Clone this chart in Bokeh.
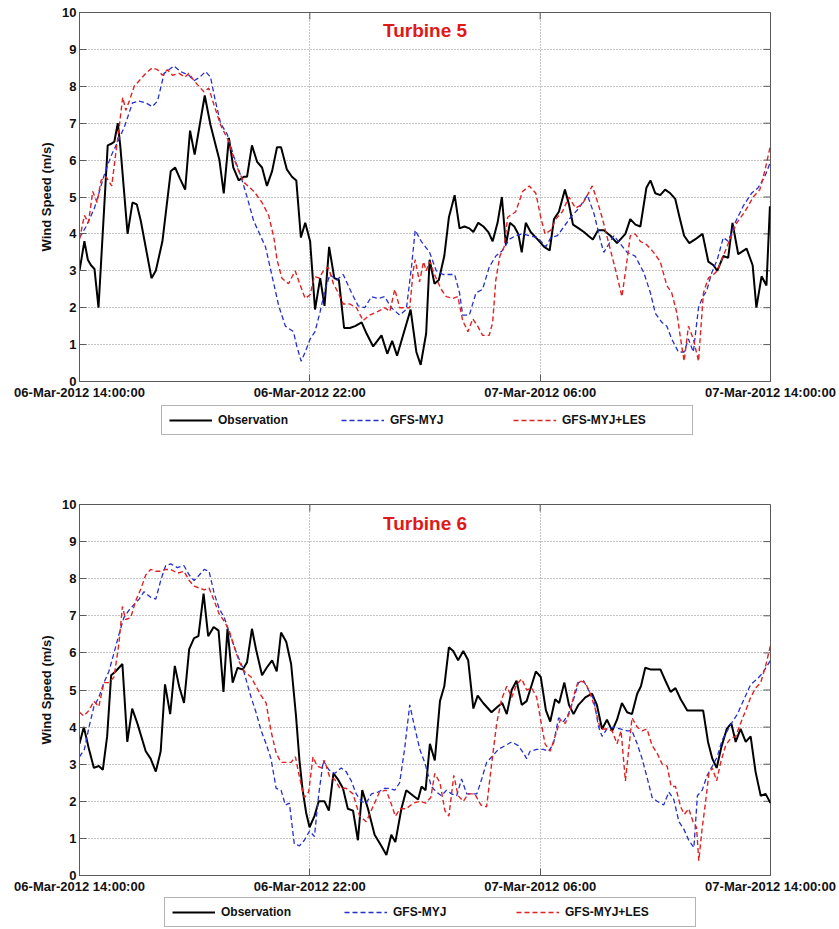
import math
from bokeh.plotting import figure
from bokeh.models import Range1d, FixedTicker, Legend, LegendItem, Label
from bokeh.layouts import column
from bokeh.embed import file_html
from bokeh.resources import INLINE

FONT = "Liberation Sans"

# ---------------- data (hours after 06-Mar-2012 14:00, wind speed m/s) ----------------
x_ticks = [0, 8, 16, 24]
x_tick_labels = ["06-Mar-2012 14:00:00", "06-Mar-2012 22:00", "07-Mar-2012 06:00", "07-Mar-2012 14:00:00"]
y_ticks = [0, 1, 2, 3, 4, 5, 6, 7, 8, 9, 10]
series_names = ["Observation", "GFS-MYJ", "GFS-MYJ+LES"]
panel_titles = ["Turbine 5", "Turbine 6"]

t5_obs_h = [0.0, 0.17, 0.29, 0.40, 0.52, 0.66, 0.98, 1.12, 1.21, 1.33, 1.42, 1.67, 1.84, 1.99, 2.13, 2.50, 2.65, 2.88,
            3.17, 3.32, 3.49, 3.67, 3.84, 4.0, 4.35, 4.55, 4.86, 5.01, 5.19, 5.34, 5.53, 5.71, 5.82, 5.99, 6.17, 6.34,
            6.51, 6.69, 6.86, 7.0, 7.2, 7.38, 7.53, 7.69, 7.84, 8.01, 8.18, 8.36, 8.51, 8.67, 8.85, 9.01, 9.19, 9.39,
            9.57, 9.8, 9.97, 10.2, 10.49, 10.69, 10.86, 11.03, 11.5, 11.7, 11.85, 12.04, 12.16, 12.33, 12.48, 12.67,
            12.83, 13.03, 13.2, 13.37, 13.54, 13.68, 13.85, 14.03, 14.2, 14.35, 14.52, 14.67, 14.81, 14.95, 15.1,
            15.24, 15.36, 15.5, 15.67, 15.91, 16.14, 16.33, 16.48, 16.65, 16.86, 17.0, 17.14, 17.34, 17.52, 17.67,
            17.83, 18.01, 18.21, 18.44, 18.67, 18.96, 19.13, 19.31, 19.48, 19.69, 19.83, 20.0, 20.17, 20.34, 20.52,
            20.69, 20.84, 21.0, 21.18, 21.38, 21.64, 21.84, 22.02, 22.15, 22.36, 22.53, 22.68, 22.88, 23.17, 23.38,
            23.51, 23.69, 23.86, 23.98]
t5_obs_v = [3.0, 3.8, 3.3, 3.15, 3.05, 2.0, 6.4, 6.45, 6.5, 7.0, 6.35, 4.0, 4.85, 4.8, 4.35, 2.8, 3.0, 3.8,
            5.7, 5.8, 5.5, 5.2, 6.8, 6.15, 7.75, 6.95, 6.0, 5.1, 6.6, 5.8, 5.45, 5.55, 5.55, 6.4, 5.95, 5.8,
            5.3, 5.7, 6.35, 6.35, 5.75, 5.55, 5.45, 3.9, 4.3, 3.8, 1.95, 2.8, 2.05, 3.65, 2.8, 2.75, 1.45, 1.45,
            1.5, 1.6, 1.3, 0.95, 1.25, 0.75, 1.1, 0.7, 1.95, 0.8, 0.45, 1.3, 3.3, 2.65, 2.75, 3.4,
            4.45, 5.05, 4.15, 4.2, 4.15, 4.05, 4.3, 4.2, 4.05, 3.8, 4.3, 5.0, 3.7, 4.3, 4.2,
            4.0, 3.5, 4.3, 4.05, 3.85, 3.65, 3.55, 4.4, 4.6, 5.2, 4.8, 4.25, 4.15, 4.05, 3.95,
            3.85, 4.1, 4.1, 3.95, 3.75, 4.0, 4.4, 4.25, 4.2, 5.25, 5.45, 5.1, 5.05, 5.2, 5.1,
            4.95, 4.45, 3.95, 3.75, 3.85, 4.0, 3.25, 3.15, 3.0, 3.4, 3.35, 4.3, 3.45, 3.6, 3.15,
            2.0, 2.85, 2.6, 4.75]

t5_myj_h = [0.0, 0.23, 0.52, 0.86, 1.09, 1.33, 1.56, 1.84, 2.07, 2.3, 2.53, 2.71, 2.94, 3.28, 3.51, 3.8, 3.98, 4.18,
            4.38, 4.55, 4.72, 4.9, 5.13, 5.36, 5.59, 5.82, 6.05, 6.46, 6.69, 6.92, 7.15, 7.43, 7.55, 7.7, 7.84, 8.01,
            8.18, 8.36, 8.53, 8.7, 8.93, 9.16, 9.45, 9.68, 9.91, 10.14, 10.37, 10.6, 10.83, 11.12, 11.35, 11.53,
            11.66, 11.87, 12.16, 12.39, 12.62, 13.03, 13.2, 13.31, 13.54, 13.77, 14.0, 14.23, 14.46, 14.69, 14.92,
            15.15, 15.39, 15.62, 15.91, 16.2, 16.37, 16.6, 16.83, 17.06, 17.35, 17.64, 17.87, 18.1, 18.21, 18.56,
            19.02, 19.3, 19.6, 19.83, 20.0, 20.23, 20.4, 20.57, 20.8, 21.0, 21.15, 21.32, 21.5, 21.65, 21.78, 21.96,
            22.15, 22.36, 22.53, 22.77, 23.05, 23.34, 23.57, 23.8, 24.0]
t5_myj_v = [3.9, 4.2, 4.7, 5.6, 6.1, 6.5, 6.9, 7.55, 7.6, 7.55, 7.45, 7.6, 8.35, 8.55, 8.4, 8.3, 8.15, 8.25,
            8.4, 8.25, 7.6, 7.0, 6.7, 6.1, 5.6, 5.0, 4.35, 3.65, 2.85, 2.05, 1.5, 1.35, 0.95, 0.55, 0.8, 1.15,
            1.35, 1.9, 2.5, 2.9, 2.75, 2.9, 2.4, 2.05, 2.0, 2.3, 2.25, 2.3, 2.0, 1.8, 1.95, 3.1,
            4.1, 3.8, 3.5, 3.0, 2.9, 2.9, 2.4, 1.8, 1.8, 2.4, 2.5, 3.1, 3.4, 3.55, 3.85,
            3.95, 4.0, 3.95, 3.9, 3.65, 3.9, 3.95, 4.2, 4.45, 4.7, 5.05, 4.55, 3.8, 3.5, 3.95,
            3.5, 3.4, 2.95, 2.4, 1.85, 1.6, 1.5, 1.15, 0.8, 0.8, 1.15, 0.8, 2.0, 2.3, 2.45, 2.95,
            3.3, 3.9, 3.8, 4.3, 4.75, 5.1, 5.25, 5.55, 5.95]

t5_les_h = [0.0, 0.17, 0.31, 0.46, 0.61, 0.75, 0.92, 1.12, 1.27, 1.38, 1.5, 1.61, 1.73, 1.9, 2.13, 2.3, 2.53, 2.71,
            2.88, 3.05, 3.23, 3.46, 3.66, 3.8, 3.98, 4.15, 4.32, 4.49, 4.67, 4.9, 5.19, 5.36, 5.53, 5.71, 5.99, 6.11,
            6.34, 6.57, 6.75, 6.86, 7.03, 7.26, 7.49, 7.67, 7.84, 8.01, 8.16, 8.32, 8.47, 8.64, 8.82, 8.99, 9.16,
            9.39, 9.62, 9.85, 10.08, 10.37, 10.6, 10.78, 10.95, 11.12, 11.3, 11.47, 11.59, 11.66, 11.81, 11.95,
            12.04, 12.16, 12.33, 12.56, 12.74, 12.97, 13.14, 13.31, 13.49, 13.66, 13.83, 14.0, 14.23, 14.35, 14.46,
            14.6, 14.75, 14.87, 15.15, 15.39, 15.62, 15.85, 16.02, 16.17, 16.37, 16.54, 16.77, 17.0, 17.23, 17.46,
            17.64, 17.81, 17.98, 18.15, 18.38, 18.61, 18.84, 19.02, 19.13, 19.3, 19.48, 19.71, 19.94, 20.17, 20.4,
            20.57, 20.75, 20.86, 21.0, 21.15, 21.32, 21.5, 21.67, 21.84, 22.02, 22.15, 22.36, 22.59, 22.83, 23.11,
            23.4, 23.63, 23.8, 24.0]
t5_les_v = [3.85, 4.5, 4.3, 5.15, 4.85, 5.45, 5.55, 5.3, 6.25, 6.9, 7.7, 7.35, 7.6, 8.0, 8.2, 8.35, 8.5, 8.45,
            8.3, 8.45, 8.3, 8.35, 8.25, 8.35, 8.15, 8.0, 7.85, 7.95, 7.5, 6.95, 6.5, 6.05, 5.7, 5.4, 5.2, 5.1,
            4.85, 4.5, 3.9, 3.3, 2.8, 2.65, 3.0, 2.6, 2.25, 2.35, 2.85, 2.8, 3.0, 3.1, 2.65, 2.4, 2.1,
            2.1, 2.0, 1.65, 1.8, 1.9, 2.0, 1.9, 2.5, 2.0, 2.0, 2.0, 3.0, 3.3, 2.7, 3.25,
            3.0, 3.25, 2.9, 2.5, 2.3, 2.25, 2.3, 1.65, 1.35, 1.7, 1.5, 1.25, 1.25, 1.6, 2.75,
            3.4, 3.65, 4.45, 4.6, 5.15, 5.3, 5.1, 4.45, 4.0, 4.1, 4.4, 4.6, 5.0, 4.7, 4.8,
            5.05, 5.3, 4.9, 4.45, 3.75, 3.05, 2.3, 3.3, 3.95, 4.0, 3.8, 3.7, 3.5, 3.25, 2.6,
            2.4, 1.85, 1.25, 0.55, 1.5, 1.15, 0.55, 2.4, 2.8, 2.9, 3.0, 3.4, 3.85, 4.3, 4.6,
            5.0, 5.2, 5.7, 6.4]

t6_obs_h = [0.0, 0.15, 0.33, 0.5, 0.67, 0.81, 0.96, 1.1, 1.25, 1.49, 1.66, 1.83, 2.01, 2.3, 2.47, 2.65, 2.82, 2.97,
            3.15, 3.31, 3.46, 3.63, 3.81, 3.98, 4.13, 4.31, 4.47, 4.66, 4.83, 5.0, 5.14, 5.32, 5.49, 5.67, 5.82, 5.99,
            6.13, 6.34, 6.5, 6.69, 6.85, 7.0, 7.18, 7.35, 7.52, 7.64, 7.75, 7.87, 7.99, 8.16, 8.31, 8.51, 8.66, 8.82,
            8.97, 9.15, 9.32, 9.5, 9.67, 9.82, 10.02, 10.25, 10.48, 10.66, 10.83, 10.97, 11.18, 11.35, 11.59, 11.76,
            11.88, 12.02, 12.17, 12.34, 12.52, 12.67, 12.83, 12.98, 13.15, 13.33, 13.5, 13.68, 13.83, 14.02, 14.31,
            14.52, 14.68, 14.84, 15.01, 15.18, 15.36, 15.53, 15.71, 15.85, 16.02, 16.2, 16.35, 16.52, 16.66, 16.84,
            17.0, 17.16, 17.33, 17.57, 17.8, 17.97, 18.15, 18.32, 18.5, 18.67, 18.84, 19.02, 19.19, 19.37, 19.5,
            19.65, 19.85, 20.0, 20.18, 20.35, 20.53, 20.7, 20.88, 21.11, 21.28, 21.46, 21.66, 21.83, 21.98, 22.13,
            22.29, 22.48, 22.64, 22.79, 22.96, 23.14, 23.31, 23.48, 23.66, 23.83, 24.0]
t6_obs_v = [3.55, 4.0, 3.4, 2.9, 2.95, 2.85, 3.75, 5.4, 5.5, 5.7, 3.6, 4.5, 4.1, 3.35, 3.15, 2.8, 3.35, 5.15,
            4.35, 5.65, 5.1, 4.65, 6.1, 6.4, 6.45, 7.6, 6.45, 6.7, 6.6, 4.95, 6.65, 5.2, 5.6, 5.55, 5.75, 6.65,
            6.1, 5.4, 5.6, 5.8, 5.5, 6.55, 6.3, 5.7, 4.3, 3.1, 2.3, 1.7, 1.3, 1.6, 2.0, 2.0, 1.75, 2.75,
            2.6, 2.35, 1.8, 1.75, 0.95, 2.3, 1.8, 1.1, 0.8, 0.55, 1.1, 0.9, 1.8, 2.3, 2.15, 2.05,
            2.4, 2.3, 3.55, 3.1, 4.7, 5.1, 6.15, 6.05, 5.8, 6.05, 5.8, 4.5, 4.85, 4.65, 4.4,
            4.55, 4.65, 4.35, 5.0, 5.25, 4.6, 4.7, 5.15, 5.5, 5.35, 4.45, 4.15, 4.75, 4.65, 5.2,
            4.6, 4.35, 4.6, 4.8, 4.9, 4.6, 3.95, 4.2, 3.9, 4.2, 4.65, 4.4, 4.35, 4.9, 5.1,
            5.6, 5.55, 5.55, 5.55, 5.25, 4.95, 5.05, 4.75, 4.45, 4.45, 4.45, 4.45, 3.6, 3.15, 2.9,
            3.45, 3.95, 4.1, 3.6, 3.95, 3.6, 3.75, 2.8, 2.15, 2.2, 1.95]

t6_myj_h = [0.0, 0.17, 0.33, 0.5, 0.67, 0.85, 1.02, 1.2, 1.37, 1.54, 1.72, 1.89, 2.07, 2.24, 2.47, 2.65, 2.82, 2.99,
            3.17, 3.4, 3.63, 3.81, 3.98, 4.16, 4.33, 4.5, 4.68, 4.85, 5.03, 5.2, 5.43, 5.67, 5.96, 6.13, 6.31, 6.48,
            6.65, 6.83, 7.0, 7.15, 7.29, 7.46, 7.64, 7.81, 7.99, 8.16, 8.31, 8.47, 8.66, 8.86, 9.09, 9.26, 9.44,
            9.61, 9.79, 9.96, 10.14, 10.37, 10.6, 10.77, 10.95, 11.12, 11.29, 11.47, 11.64, 11.82, 11.99, 12.22,
            12.4, 12.57, 12.75, 12.92, 13.1, 13.27, 13.45, 13.62, 13.8, 13.97, 14.14, 14.32, 14.55, 14.78, 15.01,
            15.24, 15.42, 15.53, 15.65, 15.88, 16.11, 16.29, 16.46, 16.64, 16.81, 16.98, 17.16, 17.33, 17.51, 17.68,
            17.86, 18.03, 18.15, 18.32, 18.55, 18.78, 19.02, 19.19, 19.37, 19.54, 19.71, 19.89, 20.06, 20.29, 20.47,
            20.64, 20.82, 20.99, 21.16, 21.34, 21.46, 21.63, 21.8, 21.98, 22.15, 22.32, 22.5, 22.68, 22.85, 23.08,
            23.31, 23.54, 23.72, 24.0]
t6_myj_v = [3.2, 3.4, 4.0, 4.55, 4.8, 5.2, 5.5, 6.0, 6.5, 6.95, 7.15, 7.3, 7.45, 7.65, 7.5, 7.45, 7.95, 8.35,
            8.4, 8.3, 8.35, 8.1, 7.95, 8.1, 8.25, 8.2, 7.6, 7.2, 6.95, 6.55, 6.05, 5.6, 4.8, 4.4, 3.9, 3.55,
            3.15, 2.35, 2.3, 1.9, 1.95, 0.85, 0.8, 0.95, 1.2, 1.05, 2.2, 3.1, 2.85, 2.75, 2.9, 2.8, 2.55,
            2.2, 2.0, 1.95, 2.2, 2.25, 2.35, 2.35, 2.3, 2.5, 3.4, 4.6, 4.0, 3.4, 3.05, 2.4,
            2.25, 2.15, 2.3, 2.2, 2.15, 2.6, 2.2, 2.2, 2.2, 2.6, 3.05, 3.2, 3.4, 3.5, 3.6,
            3.5, 3.3, 3.15, 3.35, 3.4, 3.4, 3.35, 3.55, 4.25, 4.15, 4.35, 4.75, 5.2, 5.25, 5.0,
            4.75, 4.0, 3.75, 3.95, 4.0, 3.95, 3.9, 3.9, 3.55, 3.15, 2.65, 2.1, 2.0, 1.9, 2.25,
            2.05, 1.45, 1.25, 0.95, 0.75, 2.15, 2.3, 2.7, 2.95, 3.2, 3.65, 3.9, 4.15, 4.35, 4.75,
            5.15, 5.3, 5.45, 5.8]

t6_les_h = [0.0, 0.15, 0.33, 0.5, 0.67, 0.85, 1.02, 1.2, 1.37, 1.49, 1.6, 1.78, 1.95, 2.12, 2.3, 2.47, 2.65, 2.82,
            2.99, 3.17, 3.4, 3.63, 3.81, 3.98, 4.16, 4.33, 4.5, 4.68, 4.85, 5.03, 5.2, 5.38, 5.55, 5.73, 5.96, 6.13,
            6.31, 6.48, 6.65, 6.83, 7.0, 7.18, 7.35, 7.5, 7.64, 7.81, 7.96, 8.11, 8.25, 8.4, 8.51, 8.69, 8.86, 9.04,
            9.26, 9.5, 9.73, 9.96, 10.19, 10.42, 10.65, 10.82, 10.97, 11.14, 11.35, 11.59, 11.82, 12.02, 12.2,
            12.34, 12.52, 12.69, 12.83, 13.0, 13.15, 13.33, 13.5, 13.73, 13.94, 14.14, 14.32, 14.49, 14.66, 14.84,
            15.01, 15.18, 15.36, 15.53, 15.71, 15.88, 16.05, 16.17, 16.35, 16.52, 16.7, 16.87, 17.05, 17.22, 17.33,
            17.57, 17.74, 17.91, 18.09, 18.32, 18.5, 18.67, 18.81, 18.96, 19.11, 19.19, 19.37, 19.54, 19.71, 19.89,
            20.06, 20.24, 20.41, 20.55, 20.7, 20.88, 21.01, 21.16, 21.31, 21.43, 21.51, 21.63, 21.74, 21.86, 21.98,
            22.13, 22.27, 22.44, 22.62, 22.79, 22.96, 23.14, 23.31, 23.48, 23.66, 23.83, 24.0]
t6_les_v = [4.4, 4.3, 4.45, 4.7, 4.55, 5.2, 5.2, 5.35, 6.25, 7.25, 6.9, 6.95, 7.4, 7.7, 8.1, 8.25, 8.2, 8.2,
            8.25, 8.25, 8.15, 8.2, 7.95, 7.8, 7.75, 7.7, 7.75, 7.4, 7.05, 6.85, 6.6, 6.15, 5.75, 5.5, 5.35, 5.1,
            4.85, 4.65, 3.9, 3.3, 3.05, 3.05, 3.05, 3.2, 2.65, 2.1, 2.25, 3.2, 2.95, 2.9, 3.1, 2.65, 2.6, 2.35,
            2.35, 2.2, 1.6, 1.45, 1.85, 2.25, 2.3, 1.95, 1.6, 1.8, 1.8, 1.95, 2.0, 1.95, 2.1,
            2.75, 2.5, 1.75, 1.6, 2.7, 2.15, 2.0, 2.2, 2.2, 1.9, 1.85, 3.05, 4.1, 4.75, 5.1,
            4.8, 5.15, 5.3, 5.0, 5.05, 4.8, 4.05, 3.55, 3.35, 3.75, 4.2, 4.1, 4.45, 5.0, 5.25,
            5.2, 4.9, 4.5, 3.95, 3.95, 3.9, 3.55, 3.9, 2.55, 3.65, 4.25, 4.0, 3.9, 3.95, 3.5,
            3.3, 3.0, 2.95, 2.4, 2.4, 1.85, 1.65, 1.8, 1.45, 1.3, 0.4, 1.3, 1.95, 2.75, 2.9,
            2.55, 3.05, 3.5, 3.7, 3.75, 4.1, 4.45, 4.8, 5.05, 5.2, 5.65, 6.2]

# ---------------- styling ----------------
FIG_W = 838
LEFT = 79
FRAME_W = 691
AXIS_COL = "#5a5a5a"
GRID_COL = "#8c8c8c"
OBS_COL = "#000000"
MYJ_COL = "#2330d0"
LES_COL = "#e02222"
TITLE_COL = "#e01818"
TICK_LEN = 7
STYLES = [dict(line_color=OBS_COL, line_width=2),
          dict(line_color=MYJ_COL, line_width=1.3, line_dash="5 3"),
          dict(line_color=LES_COL, line_width=1.4, line_dash="5 3")]


def make_panel(title, series, height, top, bottom):
    p = figure(width=FIG_W, height=height, x_range=Range1d(0, 24), y_range=Range1d(0, 10),
               output_backend="svg", toolbar_location=None,
               min_border_left=LEFT, min_border_right=FIG_W - LEFT - FRAME_W,
               min_border_top=top, min_border_bottom=bottom)
    p.background_fill_color = "white"
    p.border_fill_color = "white"
    p.outline_line_color = AXIS_COL
    p.outline_line_width = 1

    xax = p.xaxis[0]
    yax = p.yaxis[0]
    xax.ticker = FixedTicker(ticks=x_ticks)
    xax.major_label_overrides = {t: lab for t, lab in zip(x_ticks, x_tick_labels)}
    yax.ticker = FixedTicker(ticks=y_ticks)
    for ax in (xax, yax):
        ax.major_label_text_font = FONT
        ax.major_label_text_font_style = "bold"
        ax.major_label_text_font_size = "13px"
        ax.major_label_text_color = "#111111"
        ax.major_tick_in = TICK_LEN
        ax.major_tick_out = 0
        ax.minor_tick_line_color = None
        ax.axis_line_color = AXIS_COL
        ax.major_tick_line_color = AXIS_COL
        ax.major_label_standoff = 3
    yax.axis_label = "Wind Speed (m/s)"
    yax.axis_label_text_font = FONT
    yax.axis_label_text_font_style = "bold"
    yax.axis_label_text_font_size = "13px"
    yax.axis_label_text_color = "#111111"
    yax.axis_label_standoff = 5

    p.xgrid.ticker = FixedTicker(ticks=x_ticks)
    p.ygrid.ticker = FixedTicker(ticks=y_ticks)
    for g in (p.xgrid, p.ygrid):
        g.grid_line_color = GRID_COL
        g.grid_line_dash = "1 2"
        g.grid_line_width = 1

    # matlab-style inward ticks on the right and top edges of the box
    p.ray(x=[24] * len(y_ticks), y=y_ticks, length=TICK_LEN, length_units="screen",
          angle=math.pi, line_color=AXIS_COL, line_width=1)
    p.ray(x=x_ticks, y=[10] * len(x_ticks), length=TICK_LEN, length_units="screen",
          angle=-math.pi / 2, line_color=AXIS_COL, line_width=1)

    for (hs, vs), st in zip(series, STYLES):
        p.line(hs, vs, **st)

    p.add_layout(Label(x=12, y=9.5, text=title, text_align="center", text_baseline="middle",
                       text_color=TITLE_COL, text_font=FONT, text_font_style="bold",
                       text_font_size="19px"))
    return p


def make_legend(series, height, box_left, box_bottom):
    # a strip holding only the legend; its view range lies outside the data,
    # so the series are present (for the legend glyphs) but not visible here
    lf = figure(width=FIG_W, height=height, x_range=Range1d(-2, -1), y_range=Range1d(0, 1),
                output_backend="svg", toolbar_location=None,
                x_axis_type=None, y_axis_type=None,
                min_border_left=LEFT, min_border_right=FIG_W - LEFT - FRAME_W,
                min_border_top=0, min_border_bottom=0)
    lf.grid.visible = False
    lf.outline_line_color = None
    lf.background_fill_color = "white"
    lf.border_fill_color = "white"
    items = []
    for name, (hs, vs), st in zip(series_names, series, STYLES):
        r = lf.line(hs, vs, **st)
        items.append(LegendItem(label=name, renderers=[r]))
    legend = Legend(items=items, orientation="horizontal", location=(box_left, box_bottom),
                    glyph_width=43, glyph_height=14, label_height=14, label_width=123,
                    label_standoff=6, spacing=0, padding=7, margin=0,
                    label_text_font=FONT, label_text_font_style="bold",
                    label_text_font_size="12px", label_text_color="#111111",
                    border_line_color="#6a6a6a", border_line_width=1.2,
                    background_fill_color="white")
    lf.add_layout(legend, "center")
    return lf


s5 = [(t5_obs_h, t5_obs_v), (t5_myj_h, t5_myj_v), (t5_les_h, t5_les_v)]
s6 = [(t6_obs_h, t6_obs_v), (t6_myj_h, t6_myj_v), (t6_les_h, t6_les_v)]

p1 = make_panel(panel_titles[0], s5, height=402, top=12, bottom=20)
l1 = make_legend(s5, height=38, box_left=161 - LEFT, box_bottom=5)
p2 = make_panel(panel_titles[1], s6, height=456, top=64, bottom=20)
l2 = make_legend(s6, height=32, box_left=164 - LEFT, box_bottom=1)

layout = column(p1, l1, p2, l2, spacing=0)
open("out.html", "w").write(file_html(layout, INLINE))
